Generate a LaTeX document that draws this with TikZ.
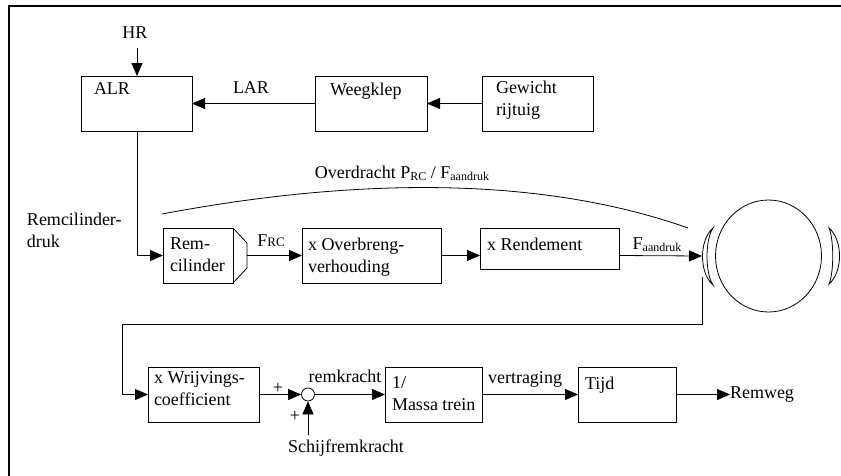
\documentclass[tikz,border=0pt]{standalone}
\usepackage{fontspec}
\setmainfont{Liberation Serif}
\usetikzlibrary{arrows.meta,shapes.geometric}
\newcommand\mysub[1]{\raisebox{-2.5pt}{\fontsize{12}{12}\selectfont #1}}
\newcommand\mysc[1]{{\fontsize{13}{13}\selectfont #1}}
\begin{document}
\begin{tikzpicture}[x=1pt,y=-1pt,
  font=\fontsize{18}{21.6}\selectfont,
  line width=0.8pt,
  box/.style={draw, rectangle, inner sep=0pt, outer sep=0pt, anchor=north west},
  txt/.style={inner sep=0pt, outer sep=0pt, align=left, anchor=north west},
  lab/.style={inner sep=0pt, outer sep=0pt, anchor=base},
  arr/.style={-{Triangle[length=13pt,width=11pt]}},
  frame/.style={line width=2pt},
  shoe/.style={draw, line width=0.8pt}
]
\useasboundingbox (0,0) rectangle (841,475);
% frame (top and left sides visible)
\draw[frame] (9,476) -- (9,6) -- (842,6);

% top row
\node[box, minimum width=111pt, minimum height=55pt] (alr) at (81,76) {};
\node[txt] (alrt) at (94,83) {ALR};
\node[box, minimum width=112pt, minimum height=55pt] (weeg) at (315,76) {};
\node[txt] (weegt) at (330,83) {Weegklep};
\node[box, minimum width=111pt, minimum height=55pt] (gew) at (482,76) {};
\node[txt] (gewt) at (496,81) {Gewicht\\rijtuig};
\node[lab] (hr) at (135,38) {HR};
\node[lab] (lar) at (251,93) {LAR};
\coordinate (hrs) at (137,48);
\draw[arr] (hrs) -- (hrs |- alr.north);
\draw[arr] (weeg.west) -- (alr.east);
\draw[arr] (gew.west) -- (weeg.east);

% middle row
\node[txt] (rcd) at (27,213) {Remcilinder-\\druk};
\node[box, minimum width=70pt, minimum height=55pt] (remc) at (163,228) {};
\node[txt] (remct) at (170,238) {Rem-\\cilinder};
\draw (remc.north east) -- ++(14,15) -- ++(0,25) -- (remc.south east);
\coordinate (remcout) at (247,255.5);
\node[box, minimum width=139pt, minimum height=55pt] (overb) at (302,228) {};
\node[txt] (overbt) at (308,238) {x Overbreng-\\verhouding};
\node[box, minimum width=139pt, minimum height=41pt] (rend) at (480,228) {};
\node[txt] (rendt) at (487,238) {x Rendement};
\node[lab] (frc) at (271,246) {F\mysc{RC}};
\node[lab] (fa) at (657,249) {F\mysub{aandruk}};
\node[lab] (ov) at (402,178) {Overdracht P\mysub{RC} / F\mysub{aandruk}};
\draw (162,214) .. controls (300,188) and (510,165) .. (688,228);

% wheel
\node[draw, ellipse, minimum width=106pt, minimum height=112pt, inner sep=0pt] (wheel) at (768.5,256) {};
\draw[shoe] (713,228) .. controls (699,240) and (699,273) .. (713,285)
               .. controls (705,273) and (705,240) .. (713,228) -- cycle;
\draw[shoe] (829,228) .. controls (843,240) and (843,272) .. (829,284)
               .. controls (834,272) and (834,240) .. (829,228) -- cycle;
\coordinate (shoeL) at (702,256);
\coordinate (shoeLb) at (702.5,277);
\coordinate (ret) at (122,324);

\draw[arr] (alr.south -| hrs) |- (remc.west);
\draw[arr] (remcout) -- (overb.west);
\draw[arr] (overb.east) -- (overb.east -| rend.west);
\draw[arr] (overb.east -| rend.east) -- (shoeL);

% bottom row
\node[box, minimum width=111pt, minimum height=55pt] (wrij) at (148,367) {};
\node[txt] (wrijt) at (154,372) {x Wrijvings-\\coefficient};
\node[draw, circle, minimum size=13pt, inner sep=0pt] (sum) at (308,394.5) {};
\node[box, minimum width=97pt, minimum height=55pt] (massa) at (385,367) {};
\node[txt] (massat) at (392,377) {1/\\Massa trein};
\node[box, minimum width=98pt, minimum height=55pt] (tijd) at (578,367) {};
\node[txt] (tijdt) at (585,377) {Tijd};
\node[lab] (plus1) at (278,393) {+};
\node[lab] (plus2) at (295,421) {+};
\node[lab] (remk) at (345,382) {remkracht};
\node[lab] (vert) at (525,383) {vertraging};
\node[lab] (schij) at (346,452) {Schijfremkracht};
\node[inner sep=0pt, outer sep=0pt, anchor=west] (remweg) at (730,394.5) {Remweg};
\coordinate (sch) at (308,435);

\draw[arr] (shoeLb) |- (ret) |- (wrij.west);
\draw[arr] (wrij.east) -- (sum.west);
\draw[arr] (sch) -- (sum.south);
\draw[arr] (sum.east) -- (massa.west);
\draw[arr] (massa.east) -- (tijd.west);
\draw[arr] (tijd.east) -- (remweg.west);
\end{tikzpicture}
\end{document}
